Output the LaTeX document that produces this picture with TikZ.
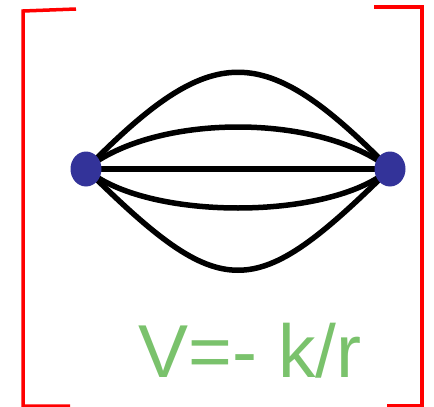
\documentclass[tikz,border=0pt]{standalone}
\usepackage{fontspec}
\newfontfamily\labelfont{Liberation Sans}
\usepackage{tikz}
\usetikzlibrary{shapes.geometric,backgrounds}
\definecolor{dotblue}{RGB}{51,51,153}
\definecolor{potgreen}{RGB}{122,194,108}

\begin{document}
\begin{tikzpicture}[x=1pt,y=-1pt,
  dot/.style={ellipse,fill=dotblue,minimum width=31pt,minimum height=35pt,inner sep=0pt},
  wire/.style={line width=5.5pt},
  brk/.style={red,line width=3.5pt}]
\useasboundingbox (0,0) rectangle (434,407);
\node[dot] (l) at (86,169) {};
\node[dot] (r) at (390,169) {};
\begin{scope}[on background layer]
\draw[wire] (l.center) .. controls (213,40) and (263,40) .. (r.center);
\draw[wire] (l.center) .. controls (156,113) and (320,113) .. (r.center);
\draw[wire] (l.center) -- (r.center);
\draw[wire] (l.center) .. controls (146,221) and (330,221) .. (r.center);
\draw[wire] (l.center) .. controls (223,304) and (253,304) .. (r.center);
\end{scope}
% brackets
\coordinate (ltop) at (76,9);
\coordinate (lbot) at (70,406);
\coordinate (rtop) at (374,7);
\coordinate (rbot) at (387,406);
\draw[brk] (ltop) -- (23,11) -- (23,406) -- (lbot);
\draw[brk] (rtop) -- (422,7) -- (422,406) -- (rbot);
\node[anchor=base,text=potgreen,font=\labelfont\fontsize{75}{80}\selectfont,inner sep=0pt] (pot) at (250,377) {V=- k/r};
\end{tikzpicture}
\end{document}
